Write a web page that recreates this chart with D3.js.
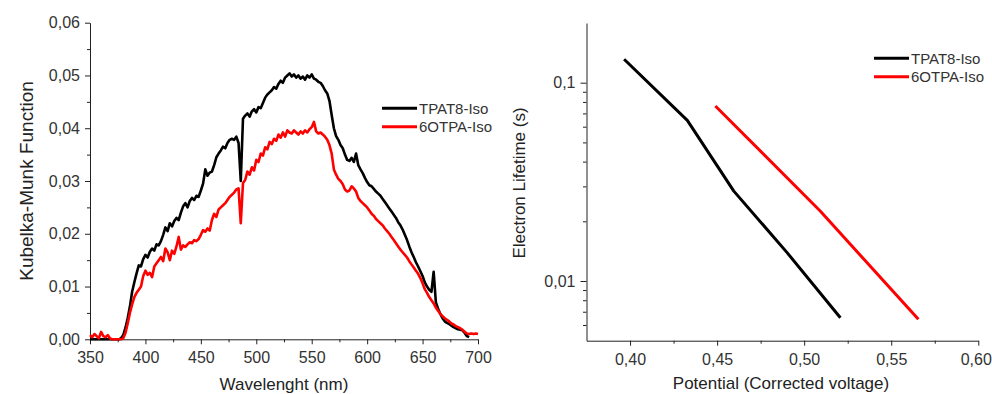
<!DOCTYPE html>
<html>
<head>
<meta charset="utf-8">
<script src="https://cdn.jsdelivr.net/npm/d3@7"></script>
<style>
  body { margin: 0; background: #fff; }
  svg { display: block; font-family: "Liberation Sans", Arial, sans-serif; }
  .axis path, .axis line { stroke: #222; }
  .axis text { fill: #333; font-size: 16px; font-family: "Liberation Sans", Arial, sans-serif; }
  .title { fill: #222; font-size: 17px; }
  .legend text { fill: #333; font-size: 15px; }
</style>
</head>
<body>
<svg id="chart" width="992" height="394"></svg>
<script>
// left panel: diffuse reflectance spectra
var wavelength = [
  350,352,354,356,358,360,362,364,366,368,
  370,372,374,376,378,380,382,384,386,388,
  390,392,394,396,398,400,402,404,406,408,
  410,412,414,416,418,420,422,424,426,428,
  430,432,434,436,438,440,442,444,446,448,
  450,452,454,456,458,460,462,464,466,468,
  470,472,474,476,478,480,482,484,486,488,
  490,492,494,496,498,500,502,504,506,508,
  510,512,514,516,518,520,522,524,526,528,
  530,532,534,536,538,540,542,544,546,548,
  550,552,554,556,558,560,562,564,566,568,
  570,572,574,576,578,580,582,584,586,588,
  590,592,594,596,598,600,602,604,606,608,
  610,612,614,616,618,620,622,624,626,628,
  630,632,634,636,638,640,642,644,646,648,
  650,652,654,656,658,660,662,664,666,668,
  670,672,674,676,678,680,682,684,686,688,
  690,692,694,696,698,700];

var kmTPAT8 = [
  0,0,0,0,0,0,0,0,0,0,
  0,0,0,0,0.0002,0.0008,0.0022,0.0040,0.0062,0.0090,
  0.0108,0.0125,0.0140,0.0138,0.0152,0.0160,0.0155,0.0166,0.0172,0.0168,
  0.0180,0.0178,0.0186,0.0198,0.0212,0.0205,0.0220,0.0214,0.0224,0.0230,
  0.0226,0.0240,0.0252,0.0258,0.0250,0.0262,0.0268,0.0264,0.0272,0.0270,
  0.0282,0.0295,0.0322,0.0310,0.0316,0.0318,0.0330,0.0345,0.0352,0.0358,
  0.0365,0.0362,0.0372,0.0378,0.0380,0.0378,0.0384,0.0372,0.0300,0.0418,
  0.0424,0.0428,0.0422,0.0432,0.0436,0.0430,0.0440,0.0438,0.0448,0.0458,
  0.0464,0.0468,0.0472,0.0478,0.0475,0.0484,0.0490,0.0486,0.0496,0.0500,
  0.0504,0.0498,0.0502,0.0496,0.0500,0.0494,0.0498,0.0492,0.0500,0.0496,
  0.0502,0.0494,0.0492,0.0488,0.0486,0.0480,0.0472,0.0466,0.0452,0.0425,
  0.0400,0.0385,0.0378,0.0368,0.0362,0.0350,0.0340,0.0338,0.0344,0.0336,
  0.0352,0.0330,0.0322,0.0315,0.0306,0.0298,0.0292,0.0290,0.0285,0.0280,
  0.0276,0.0272,0.0266,0.0260,0.0254,0.0248,0.0242,0.0236,0.0230,0.0222,
  0.0216,0.0208,0.0198,0.0188,0.0176,0.0165,0.0156,0.0146,0.0138,0.0129,
  0.0120,0.0108,0.0100,0.0094,0.0090,0.0128,0.0070,0.0058,0.0048,0.0040,
  0.0034,0.0031,0.0029,0.0026,0.0023,0.0021,0.0019,0.0018,0.0017,0.0012,
  0.0006,0.0004,null,null,null,null];

var km6OTPA = [
  0.0008,0.0004,0.0010,0.0006,0.0002,0.0014,0.0006,0.0004,0.0008,0.0002,
  0,0,0,0,0,0.0002,0.0012,0.0030,0.0050,0.0066,
  0.0080,0.0088,0.0094,0.0100,0.0120,0.0130,0.0122,0.0126,0.0118,0.0138,
  0.0144,0.0150,0.0156,0.0148,0.0172,0.0165,0.0150,0.0168,0.0162,0.0176,
  0.0194,0.0170,0.0178,0.0175,0.0180,0.0184,0.0182,0.0188,0.0186,0.0190,
  0.0198,0.0207,0.0204,0.0210,0.0206,0.0226,0.0238,0.0232,0.0246,0.0250,
  0.0254,0.0258,0.0264,0.0270,0.0274,0.0278,0.0284,0.0286,0.0220,0.0296,
  0.0302,0.0318,0.0312,0.0326,0.0320,0.0340,0.0336,0.0352,0.0348,0.0364,
  0.0360,0.0374,0.0370,0.0380,0.0376,0.0388,0.0382,0.0392,0.0384,0.0396,
  0.0392,0.0390,0.0396,0.0392,0.0388,0.0394,0.0390,0.0396,0.0392,0.0398,
  0.0402,0.0412,0.0394,0.0390,0.0392,0.0388,0.0384,0.0378,0.0368,0.0352,
  0.0322,0.0312,0.0304,0.0300,0.0294,0.0284,0.0280,0.0282,0.0290,0.0286,
  0.0280,0.0268,0.0262,0.0258,0.0254,0.0250,0.0244,0.0238,0.0234,0.0228,
  0.0224,0.0220,0.0216,0.0210,0.0205,0.0200,0.0194,0.0188,0.0182,0.0176,
  0.0170,0.0165,0.0160,0.0155,0.0148,0.0142,0.0136,0.0130,0.0124,0.0116,
  0.0106,0.0095,0.0088,0.0080,0.0074,0.0068,0.0060,0.0054,0.0048,0.0044,
  0.0040,0.0037,0.0034,0.0030,0.0028,0.0025,0.0023,0.0021,0.0018,0.0014,
  0.0011,0.0010,0.0011,0.0010,0.0011,0.0010];

var kmTicks = [0, 0.01, 0.02, 0.03, 0.04, 0.05, 0.06];
var wlTicks = [350, 400, 450, 500, 550, 600, 650, 700];

// right panel: electron lifetime vs corrected potential
var potentialTPAT8 = [0.3966, 0.4329, 0.4596, 0.4902, 0.5208];
var lifetimeTPAT8 = [0.1313, 0.0646, 0.0284, 0.0139, 0.00653];
var potential6OTPA = [0.449, 0.5092, 0.5656];
var lifetime6OTPA = [0.0763, 0.02254, 0.00641];
var potTicks = [0.40, 0.45, 0.50, 0.55, 0.60];
var lifeTicks = [0.01, 0.1];

var seriesNames = ["TPAT8-Iso", "6OTPA-Iso"];
var seriesColors = ["#000000", "#ff0000"];

var loc = d3.formatLocale({decimal: ",", thousands: ".", grouping: [3], currency: ["", ""]});

var svg = d3.select("#chart");
svg.append("rect").attr("width", 992).attr("height", 394).attr("fill", "#fff");

// ---------- left chart ----------
var x1 = d3.scaleLinear().domain([350, 700]).range([90, 478]);
var y1 = d3.scaleLinear().domain([0, 0.06]).range([339.3, 22.7]);

var minorX1 = d3.range(375, 700, 50);
var minorY1 = d3.range(0.005, 0.06, 0.01);

svg.append("g").attr("class", "axis")
    .attr("transform", "translate(0,339.3)")
    .call(d3.axisBottom(x1).tickValues(minorX1).tickSize(3).tickFormat(""))
    .call(function(g) { g.select(".domain").remove(); });
svg.append("g").attr("class", "axis")
    .attr("transform", "translate(90,0)")
    .call(d3.axisLeft(y1).tickValues(minorY1).tickSize(3).tickFormat(""))
    .call(function(g) { g.select(".domain").remove(); });

svg.append("g").attr("class", "axis")
    .attr("transform", "translate(0,339.3)")
    .call(d3.axisBottom(x1).tickValues(wlTicks).tickSize(5).tickSizeOuter(0).tickPadding(7).tickFormat(d3.format("d")));
svg.append("g").attr("class", "axis")
    .attr("transform", "translate(90,0)")
    .call(d3.axisLeft(y1).tickValues(kmTicks).tickSize(5).tickSizeOuter(0).tickPadding(5).tickFormat(loc.format(".2f")));

var specLine = function(vals) {
    return d3.line()
        .defined(function(d, i) { return vals[i] !== null; })
        .x(function(d, i) { return x1(wavelength[i]); })
        .y(function(d, i) { return y1(vals[i]); })(vals);
};

[kmTPAT8, km6OTPA].forEach(function(vals, k) {
    svg.append("path")
        .attr("d", specLine(vals))
        .attr("fill", "none")
        .attr("stroke", seriesColors[k])
        .attr("stroke-width", 2.6)
        .attr("stroke-linejoin", "round");
});

svg.append("text").attr("class", "title")
    .attr("text-anchor", "middle")
    .style("font-size", "19px")
    .attr("transform", "translate(33,181) rotate(-90)")
    .text("Kubelka-Munk Function");
svg.append("text").attr("class", "title")
    .attr("text-anchor", "middle")
    .attr("x", 284).attr("y", 390)
    .text("Wavelenght (nm)");

function legend(x0, y0) {
    var g = svg.append("g").attr("class", "legend");
    seriesNames.forEach(function(name, i) {
        var yy = y0 + i * 18.4;
        g.append("line")
            .attr("x1", x0).attr("x2", x0 + 35)
            .attr("y1", yy).attr("y2", yy)
            .attr("stroke", seriesColors[i]).attr("stroke-width", 3);
        g.append("text")
            .attr("x", x0 + 37).attr("y", yy)
            .attr("dy", "0.35em")
            .text(name);
    });
}
legend(382, 108.3);

// ---------- right chart ----------
var x2 = d3.scaleLinear().domain([0.375, 0.6]).range([586.5, 978.3]);
var y2 = d3.scaleLog().domain([0.005, 0.2]).range([340.7, 23]);

var minorX2 = d3.range(0.425, 0.6, 0.05);
var minorY2 = [0.006, 0.007, 0.008, 0.009, 0.02, 0.03, 0.04, 0.05, 0.06, 0.07, 0.08, 0.09];

svg.append("g").attr("class", "axis")
    .attr("transform", "translate(0,340.7)")
    .call(d3.axisBottom(x2).tickValues(minorX2).tickSize(3).tickFormat(""))
    .call(function(g) { g.select(".domain").remove(); });
svg.append("g").attr("class", "axis")
    .attr("transform", "translate(586.5,0)")
    .call(d3.axisLeft(y2).tickValues(minorY2).tickSize(3.5).tickFormat(""))
    .call(function(g) { g.select(".domain").remove(); });

svg.append("g").attr("class", "axis")
    .attr("transform", "translate(0,340.7)")
    .call(d3.axisBottom(x2).tickValues(potTicks).tickSize(5).tickSizeOuter(0).tickPadding(8).tickFormat(loc.format(".2f")))
    .call(function(g) {
        // keep the last label inside the window
        g.selectAll(".tick text").filter(function(d) { return d === 0.60; })
            .attr("text-anchor", "end").attr("x", 13);
    });
svg.append("g").attr("class", "axis")
    .attr("transform", "translate(586.5,0)")
    .call(d3.axisLeft(y2).tickValues(lifeTicks).tickSize(6).tickSizeOuter(0).tickPadding(5).tickFormat(loc.format(".2~f")));

var lifeLine = function(px, py) {
    return d3.line()
        .x(function(d, i) { return x2(px[i]); })
        .y(function(d, i) { return y2(py[i]); })(px);
};

svg.append("path")
    .attr("d", lifeLine(potentialTPAT8, lifetimeTPAT8))
    .attr("fill", "none").attr("stroke", seriesColors[0])
    .attr("stroke-width", 3).attr("stroke-linejoin", "round");
svg.append("path")
    .attr("d", lifeLine(potential6OTPA, lifetime6OTPA))
    .attr("fill", "none").attr("stroke", seriesColors[1])
    .attr("stroke-width", 3).attr("stroke-linejoin", "round");

svg.append("text").attr("class", "title")
    .attr("text-anchor", "middle")
    .attr("transform", "translate(525,183) rotate(-90)")
    .text("Electron Lifetime (s)");
svg.append("text").attr("class", "title")
    .attr("text-anchor", "middle")
    .attr("x", 781).attr("y", 389)
    .text("Potential (Corrected voltage)");

legend(874, 58.3);
</script>
</body>
</html>
